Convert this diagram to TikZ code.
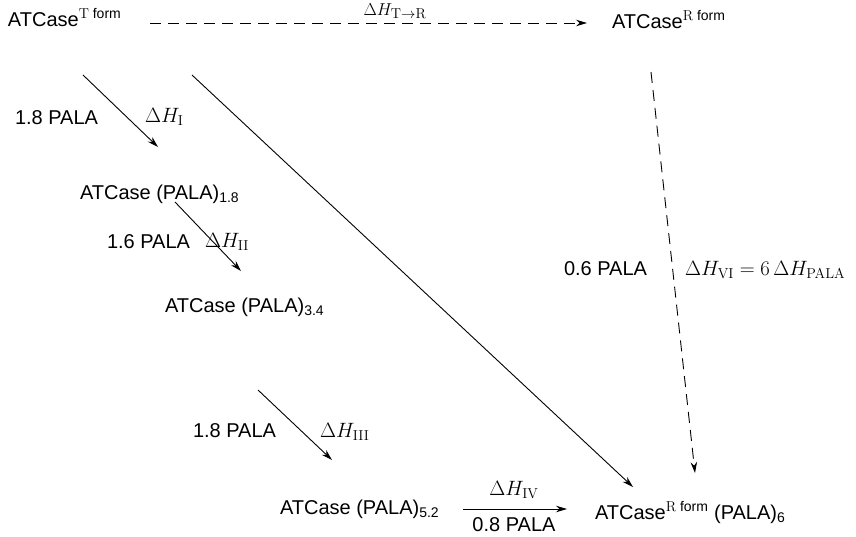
\documentclass[tikz,border=0pt]{standalone}
\usepackage[no-math]{fontspec}
\setmainfont{Liberation Sans}
\usetikzlibrary{arrows.meta}
\begin{document}
\begin{tikzpicture}[x=1pt,y=-1pt,
  every node/.style={inner sep=0pt,outer sep=0pt,font=\fontsize{20}{24}\selectfont},
  lbl/.style={anchor=base west},
  mlab/.style={anchor=base west,font=\fontsize{22}{26}\selectfont},
  solidarrow/.style={line width=0.9pt,-{Stealth[length=11pt,width=6.5pt]}},
  dasharrow/.style={line width=0.9pt,dash pattern=on 11pt off 7pt,-{Stealth[length=11pt,width=6.5pt]}}]
\useasboundingbox (0,0) rectangle (856,536);
% species
\node[lbl] (Tform) at (8,26) {ATCase\textsuperscript{$\mathrm{T}$ form}};
\node[lbl] (Rform) at (612,28) {ATCase\textsuperscript{$\mathrm{R}$ form}};
\node[lbl] (P18) at (80,199) {ATCase (PALA)\textsubscript{1.8}};
\node[lbl] (P34) at (165,312) {ATCase (PALA)\textsubscript{3.4}};
\node[lbl] (P52) at (280,514) {ATCase (PALA)\textsubscript{5.2}};
\node[lbl] (R6) at (595,519) {ATCase\textsuperscript{$\mathrm{R}$ form} (PALA)\textsubscript{6}};
% connector end points
\coordinate (tr1) at (150,23);
\coordinate (tr2) at (587,23);
\coordinate (rv1) at (651,72);
\coordinate (rv2) at (695,473);
\coordinate (a1s) at (83,75);
\coordinate (a1e) at (158,147);
\coordinate (ds) at (192,75);
\coordinate (de) at (633,487);
\coordinate (a2s) at (175,202);
\coordinate (a2e) at (241,271);
\coordinate (a3s) at (258,390);
\coordinate (a3e) at (332,460);
\coordinate (h1) at (463,509);
\coordinate (h2) at (567,509);
% connectors
\draw[dasharrow] (tr1) -- (tr2);
\draw[dasharrow] (rv1) -- (rv2);
\draw[solidarrow] (a1s) -- (a1e);
\draw[solidarrow] (ds) -- (de);
\draw[solidarrow] (a2s) -- (a2e);
\draw[solidarrow] (a3s) -- (a3e);
\draw[solidarrow] (h1) -- (h2);
% labels
\node[anchor=base,font=\fontsize{19}{22}\selectfont] (lTR) at (395,15) {$\Delta H_{\mathrm{T}\to\mathrm{R}}$};
\node[lbl] (l1a) at (15,124) {1.8 PALA};
\node[mlab] (l1b) at (145,122) {$\Delta H_{\mathrm{I}}$};
\node[lbl] (l2a) at (107,248) {1.6 PALA};
\node[mlab] (l2b) at (205,247) {$\Delta H_{\mathrm{II}}$};
\node[lbl] (l3a) at (193,437) {1.8 PALA};
\node[mlab] (l3b) at (320,437) {$\Delta H_{\mathrm{III}}$};
\node[mlab,anchor=base] (l4a) at (514,495) {$\Delta H_{\mathrm{IV}}$};
\node[anchor=base] (l4b) at (514,531) {0.8 PALA};
\node[lbl] (l6a) at (564,275) {0.6 PALA};
\node[mlab] (l6b) at (685,275) {$\Delta H_{\mathrm{VI}} = 6\,\Delta H_{\mathrm{PALA}}$};
\end{tikzpicture}
\end{document}
